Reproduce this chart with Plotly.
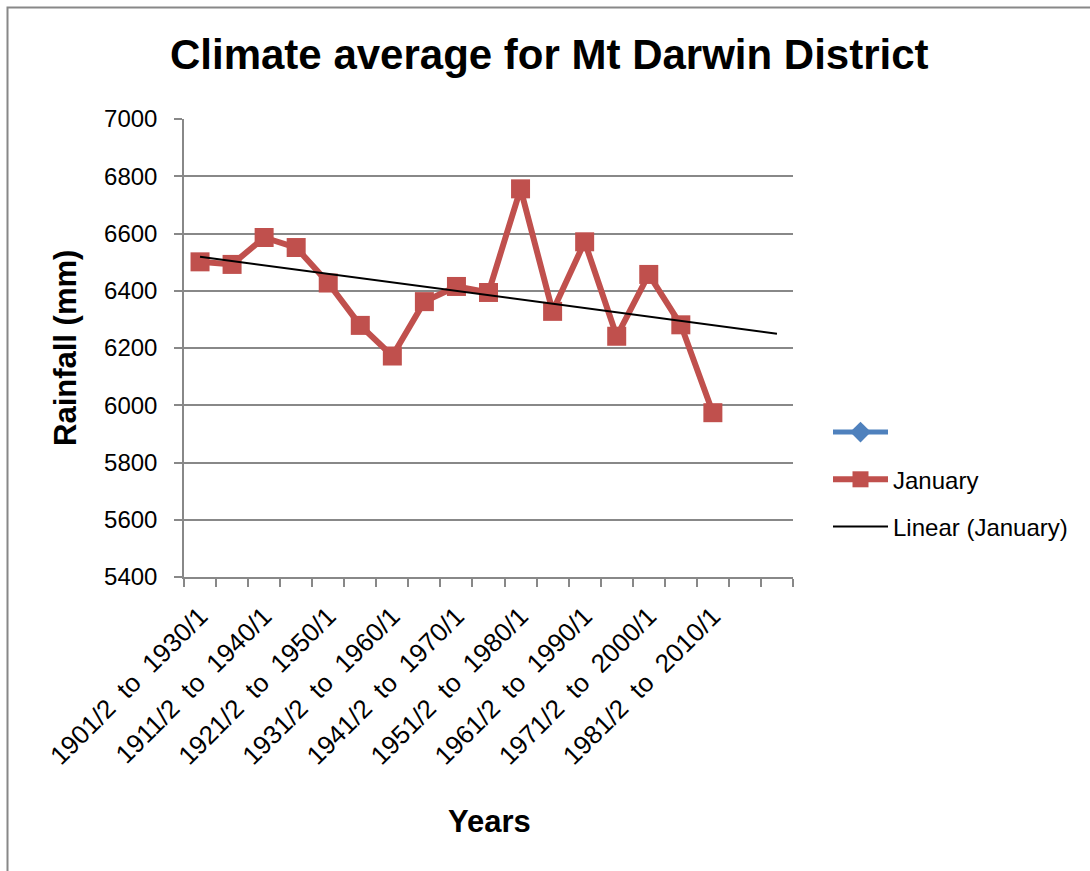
import numpy as np
import plotly.graph_objects as go

# ---------------- data ----------------
categories = [
    "1901/2 to 1930/1", "1906/2 to 1935/1", "1911/2 to 1940/1", "1916/2 to 1945/1",
    "1921/2 to 1950/1", "1926/2 to 1955/1", "1931/2 to 1960/1", "1936/2 to 1965/1",
    "1941/2 to 1970/1", "1946/2 to 1975/1", "1951/2 to 1980/1", "1956/2 to 1985/1",
    "1961/2 to 1990/1", "1966/2 to 1995/1", "1971/2 to 2000/1", "1976/2 to 2005/1",
    "1981/2 to 2010/1",
]
january = [6501, 6492, 6586, 6551, 6427, 6279, 6172, 6362, 6415, 6394,
           6756, 6328, 6571, 6241, 6457, 6281, 5974]
n_slots = 19          # category slots on the axis (last two empty)
y_ticks = [5400, 5600, 5800, 6000, 6200, 6400, 6600, 6800, 7000]

title_text = "Climate average for Mt Darwin District"
x_title = "Years"
y_title = "Rainfall (mm)"

# ---------------- derived ----------------
x = np.arange(1, len(january) + 1)
slots = np.arange(1, n_slots + 1)
coef = np.polyfit(x, np.array(january, dtype=float), 1)
trend = np.polyval(coef, slots)

tick_pos = x[::2]
tick_text = [c.replace(" to ", "&nbsp;&nbsp;to&nbsp;&nbsp;") for c in categories[::2]]

RED = "#C0504D"
BLUE = "#4F81BD"
GRID = "#888888"
FONT = "Liberation Sans, Arial, sans-serif"

fig = go.Figure()
fig.add_trace(go.Scatter(
    x=[None], y=[None], name=" ", mode="lines+markers", legendgroup="a",
    line=dict(color=BLUE, width=5), marker=dict(symbol="diamond", size=16, color=BLUE),
))
fig.add_trace(go.Scatter(
    x=x, y=january, name="January", mode="lines+markers", legendgroup="b",
    line=dict(color=RED, width=6), marker=dict(symbol="square", size=19, color=RED),
))
fig.add_trace(go.Scatter(
    x=slots, y=trend, name="Linear (January)", mode="lines", legendgroup="c",
    line=dict(color="black", width=2),
))

L, R, T, B = 184, 297, 119, 294
W, H = 1090, 871
pw, ph = W - L - R, H - T - B

def px(X):
    return (X - L) / pw

def py(Y):
    return (H - B - Y) / ph

fig.update_layout(
    width=W, height=H, autosize=False,
    margin=dict(l=L, r=R, t=T, b=B, pad=0),
    paper_bgcolor="white", plot_bgcolor="white",
    showlegend=True,
    legend=dict(
        x=px(828), y=py(410), xanchor="left", yanchor="top",
        font=dict(family=FONT, size=24, color="black"),
        tracegroupgap=13, itemwidth=55, bgcolor="rgba(0,0,0,0)",
    ),
    xaxis=dict(
        range=[0.5, n_slots + 0.5],
        tickmode="array", tickvals=tick_pos, ticktext=tick_text,
        tickangle=-45, ticks="", ticklabelstandoff=12,
        tickfont=dict(family=FONT, size=26, color="black"),
        showgrid=False, zeroline=False,
        showline=True, linecolor=GRID, linewidth=1.5,
        minor=dict(tick0=0.5, dtick=1, ticks="outside", ticklen=8,
                   tickcolor=GRID, tickwidth=1.5, showgrid=False),
    ),
    yaxis=dict(
        range=[5400, 7000], tickmode="array", tickvals=y_ticks,
        ticks="outside", ticklen=8, tickcolor=GRID, tickwidth=1.5,
        ticklabelstandoff=12,
        tickfont=dict(family=FONT, size=24, color="black"),
        showgrid=True, gridcolor=GRID, gridwidth=1.5, zeroline=False,
        showline=True, linecolor=GRID, linewidth=1.5,
    ),
    annotations=[
        dict(text="<b>" + title_text + "</b>", x=px(549), y=py(55), xref="paper", yref="paper",
             xanchor="center", yanchor="middle", showarrow=False,
             font=dict(family=FONT, size=42, color="black")),
        dict(text="<b>" + y_title + "</b>", x=px(65), y=py(348), xref="paper", yref="paper",
             xanchor="center", yanchor="middle", showarrow=False, textangle=-90,
             font=dict(family=FONT, size=31, color="black")),
        dict(text="<b>" + x_title + "</b>", x=px(489), y=py(821), xref="paper", yref="paper",
             xanchor="center", yanchor="middle", showarrow=False,
             font=dict(family=FONT, size=31, color="black")),
    ],
    shapes=[
        dict(type="rect", xref="paper", yref="paper",
             x0=px(7.5), y0=py(7.5), x1=px(W + 50), y1=py(H + 50),
             line=dict(color=GRID, width=2), fillcolor="rgba(0,0,0,0)", layer="below"),
    ],
)

fig.write_html("out.html")
